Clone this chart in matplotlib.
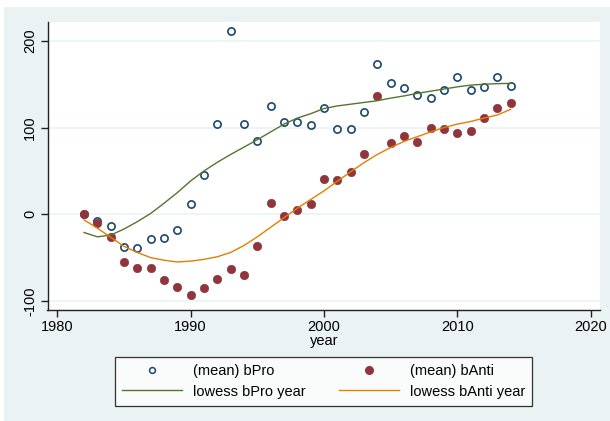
import matplotlib
matplotlib.use('Agg')
import matplotlib.pyplot as plt
from matplotlib.lines import Line2D
from matplotlib.patches import Rectangle

# data
years = list(range(1982, 2015))
bPro = [0, -8, -13, -38, -39, -29, -27, -18.5, 12, 45, 104, 212, 104, 85, 125, 107, 107, 103,
        123, 98, 98, 118, 173, 151, 146, 138, 134, 143, 158, 143, 147, 158, 148]
bAnti = [0, -10, -26, -55, -62, -62, -76, -84, -93, -85, -75, -63, -70, -36, 13, -1.6, 4.6, 12,
         41, 40, 49, 70, 136, 82, 90, 83, 99, 98, 94, 96, 111, 123, 128]
lowessPro = [-21, -26, -24, -17, -8.5, 1, 12.7, 25, 38.5, 50, 60, 69, 77.5, 86, 95, 104, 111, 116,
             122, 125, 127, 129, 131, 134, 136.5, 139.5, 142, 144.5, 147, 149, 150, 150.7, 151]
lowessAnti = [-6.5, -16, -26.5, -37, -44, -50, -53, -55, -54, -52, -49, -44, -36, -26, -15, -4, 7, 17,
              27, 38, 49, 59.5, 69, 77, 84, 89.5, 95, 100, 104, 107, 111, 114.5, 121]
xticks = [1980, 1990, 2000, 2010, 2020]
yticks = [-100, 0, 100, 200]

navy = '#1a476f'
maroon = '#90353b'
green = '#55752f'
orange = '#e37e00'
bg = '#eaf2f3'

plt.rcParams['font.family'] = ['Liberation Sans', 'DejaVu Sans']
fs = 10.5

W, H = 610, 421
fig = plt.figure(figsize=(W / 100, H / 100), dpi=100, facecolor='white')
fig.patches.append(Rectangle((4 / W, 0), 1 - 4 / W, (H - 7) / H, transform=fig.transFigure,
                             facecolor=bg, edgecolor='none', zorder=-10))

ax = fig.add_axes([47.5 / W, (H - 310) / H, (600 - 47.5) / W, (310 - 21.5) / H])
ax.set_facecolor('white')

ax.plot(years, bPro, linestyle='none', marker='o', markersize=5.2, markerfacecolor='none',
        markeredgecolor=navy, markeredgewidth=1.2, zorder=3)
ax.plot(years, bAnti, linestyle='none', marker='o', markersize=6, markerfacecolor=maroon,
        markeredgecolor=maroon, markeredgewidth=0.5, zorder=4)
ax.plot(years, lowessPro, color=green, linewidth=1.0, zorder=5)
ax.plot(years, lowessAnti, color=orange, linewidth=1.0, zorder=5)

ax.set_xlim(1979.26, 2020.71)
ax.set_ylim(-110.4, 222.4)
ax.set_xticks(xticks)
ax.set_yticks(yticks)
ax.set_yticklabels([str(v) for v in yticks], rotation=90, va='center')
ax.grid(axis='y', color=bg, linewidth=1.2, zorder=0)
ax.set_axisbelow(True)
for s in ['top', 'right']:
    ax.spines[s].set_visible(False)
for s in ['left', 'bottom']:
    ax.spines[s].set_color('#222222')
    ax.spines[s].set_linewidth(1.0)
ax.tick_params(direction='out', length=5, width=1, color='#222222', labelsize=fs, pad=2.5)
ax.set_xlabel('year', fontsize=fs, labelpad=0)

handles = [
    Line2D([], [], linestyle='none', marker='o', markersize=4.2, markerfacecolor='none',
           markeredgecolor=navy, markeredgewidth=1.1),
    Line2D([], [], color=green, linewidth=1.0),
    Line2D([], [], linestyle='none', marker='o', markersize=5.5, markerfacecolor=maroon,
           markeredgecolor=maroon),
    Line2D([], [], color=orange, linewidth=1.0),
]
labels = ['(mean) bPro', 'lowess bPro year', '(mean) bAnti', 'lowess bAnti year']
leg = fig.legend(handles, labels, ncol=2, loc='center',
                 bbox_to_anchor=((113.3 + 534) / 2 / W, 1 - (358.3 + 404.3) / 2 / H),
                 fontsize=fs, frameon=True, fancybox=False, edgecolor='black',
                 handlelength=4.1, handletextpad=0.75, columnspacing=2.3,
                 labelspacing=0.45, borderpad=0.5)
leg.get_frame().set_linewidth(0.9)

fig.savefig('out.png', dpi=100, facecolor='white')
